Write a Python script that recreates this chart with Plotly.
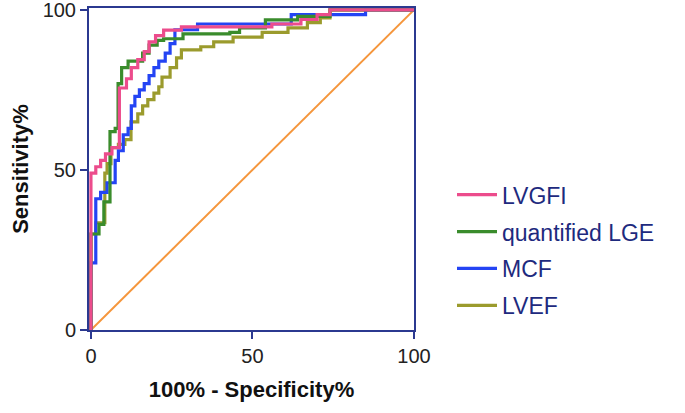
import plotly.graph_objects as go

# ROC curves: x = 100% - Specificity%, y = Sensitivity%
lvgfi_x = [0, 0, 1.5, 1.5, 3, 3, 4.5, 4.5, 6.5, 6.5, 8.8, 8.8, 11, 11, 12.5, 12.5, 14.5, 14.5, 16.5, 16.5,
           18, 18, 20, 20, 22.5, 22.5, 28, 28, 56, 56, 65, 65, 70, 70, 74, 74, 100]
lvgfi_y = [0, 49, 49, 51, 51, 53, 53, 55, 55, 57, 57, 75.6, 75.6, 78.5, 78.5, 82, 82, 84.5, 84.5, 87,
           87, 90, 90, 92, 92, 93.7, 93.7, 94.7, 94.7, 95.6, 95.6, 97, 97, 98.5, 98.5, 100, 100]

lge_x = [0, 0, 2.5, 2.5, 4, 4, 5.9, 5.9, 7.5, 7.5, 8.4, 8.4, 9.5, 9.5, 11.5, 11.5, 16, 16, 18, 18,
         20.5, 20.5, 22.5, 22.5, 28.5, 28.5, 43, 43, 46, 46, 54, 54, 64, 64, 74, 74, 100]
lge_y = [0, 30, 30, 33, 33, 40, 40, 62, 62, 63, 63, 77, 77, 82, 82, 84, 84, 86.5, 86.5, 89,
         89, 90.5, 90.5, 91, 91, 92.5, 92.5, 93, 93, 94.4, 94.4, 96.9, 96.9, 98, 98, 100, 100]

mcf_x = [0, 0, 1.5, 1.5, 3, 3, 5, 5, 7.5, 7.5, 8.5, 8.5, 10, 10, 11.5, 11.5, 12.5, 12.5, 13.6, 13.6,
         15, 15, 16.5, 16.5, 18, 18, 19.5, 19.5, 21, 21, 23, 23, 24.5, 24.5, 26, 26, 33, 33, 62, 62,
         85, 85, 100]
mcf_y = [0, 21, 21, 41, 41, 43, 43, 46, 46, 53, 53, 56, 56, 61, 61, 63, 63, 70, 70, 73,
         73, 75, 75, 77, 77, 79.5, 79.5, 82, 82, 84, 84, 86.5, 86.5, 89.5, 89.5, 93.8, 93.8, 95.6, 95.6, 98.5,
         98.5, 100, 100]

lvef_x = [0, 0, 1.5, 1.5, 4.3, 4.3, 5, 5, 6.2, 6.2, 8.5, 8.5, 10.5, 10.5, 12.4, 12.4, 14.5, 14.5, 16, 16,
          17.6, 17.6, 19.5, 19.5, 21, 21, 22, 22, 24.5, 24.5, 26.5, 26.5, 28, 28, 34, 34, 38, 38, 44, 44,
          53, 53, 61, 61, 67, 67, 71, 71, 74, 74, 100]
lvef_y = [0, 30, 30, 33.5, 33.5, 49, 49, 52, 52, 57, 57, 58, 58, 59.5, 59.5, 65, 65, 67.5, 67.5, 70,
          70, 72, 72, 74, 74, 76, 76, 79, 79, 82, 82, 85, 85, 87.5, 87.5, 88.5, 88.5, 90, 90, 91.5,
          91.5, 93, 93, 94.4, 94.4, 96, 96, 97.5, 97.5, 100, 100]

ref_x = [0, 100]
ref_y = [0, 100]

series_names = ["LVGFI", "quantified LGE", "MCF", "LVEF"]
colors = {"LVGFI": "#EC4C8C", "quantified LGE": "#3A8C2C", "MCF": "#2444F4", "LVEF": "#9B9B2D"}

fig = go.Figure()
fig.add_trace(go.Scatter(x=ref_x, y=ref_y, mode="lines", line=dict(color="#F5963C", width=2),
                         showlegend=False, hoverinfo="skip"))

data = {"LVEF": (lvef_x, lvef_y), "MCF": (mcf_x, mcf_y),
        "quantified LGE": (lge_x, lge_y), "LVGFI": (lvgfi_x, lvgfi_y)}
for name in ["LVEF", "MCF", "quantified LGE", "LVGFI"]:
    xs, ys = data[name]
    fig.add_trace(go.Scatter(x=xs, y=ys, mode="lines", name=name,
                             line=dict(color=colors[name], width=3.2),
                             legendgroup=name, legendrank=series_names.index(name) + 1))

axis_color = "#2B3990"
tickfont = dict(family="Liberation Sans, Arial", size=20, color="#222222")
titlefont = dict(family="Liberation Sans, Arial", size=22, color="#111111", weight="bold")

fig.update_layout(
    width=685, height=413,
    margin=dict(l=89, r=271, t=8, b=83, autoexpand=False),
    paper_bgcolor="white", plot_bgcolor="white",
    showlegend=True,
    legend=dict(x=(452 - 89) / 325, y=0.487, xanchor="left", yanchor="top",
                font=dict(family="Liberation Sans, Arial", size=23, color="#1E2A7E"),
                tracegroupgap=4, itemwidth=40, bgcolor="rgba(0,0,0,0)"),
    xaxis=dict(range=[-0.6, 100], tickvals=[0, 50, 100], ticktext=["0", "50", "100"],
               showline=True, linecolor=axis_color, linewidth=2, mirror=True,
               ticks="outside", ticklen=7, tickwidth=2, tickcolor=axis_color, automargin=False,
               showgrid=False, zeroline=False, tickfont=tickfont, layer="below traces",
               ticklabeloverflow="allow",
               title=dict(text="100% - Specificity%", font=titlefont, standoff=16)),
    yaxis=dict(range=[0, 100.6], tickvals=[0, 50, 100], ticktext=["0", "50", "100"],
               showline=True, linecolor=axis_color, linewidth=2, mirror=True,
               ticks="outside", ticklen=7, tickwidth=2, tickcolor=axis_color, automargin=False,
               showgrid=False, zeroline=False, tickfont=tickfont, layer="below traces",
               ticklabeloverflow="allow",
               title=dict(text="Sensitivity%", font=titlefont, standoff=8)),
)

fig.write_html("out.html", config={"displayModeBar": False},
               post_script="document.body.style.margin='0';")
